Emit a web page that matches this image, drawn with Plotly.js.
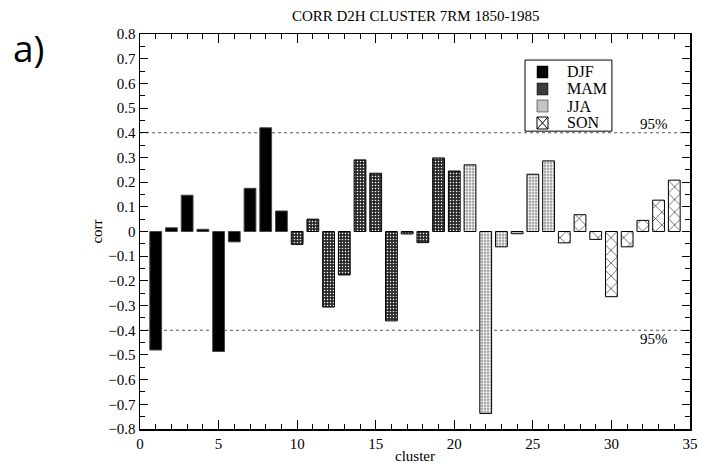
<!DOCTYPE html>
<html>
<head>
<meta charset="utf-8">
<script src="https://cdn.plot.ly/plotly-3.0.1.min.js"></script>
<style>html,body{margin:0;padding:0;background:#fff;}#chart{width:701px;height:472px;}</style>
</head>
<body>
<div id="chart"></div>
<script>
const seasons = ["DJF", "MAM", "JJA", "SON"];
const djfX = [1, 2, 3, 4, 5, 6, 7, 8, 9];
const djfY = [-0.48, 0.015, 0.147, 0.009, -0.486, -0.042, 0.175, 0.42, 0.083];
const mamX = [10, 11, 12, 13, 14, 15, 16, 17, 18, 19, 20];
const mamY = [-0.052, 0.05, -0.306, -0.176, 0.29, 0.236, -0.362, -0.01, -0.045, 0.298, 0.245];
const jjaX = [21, 22, 23, 24, 25, 26];
const jjaY = [0.27, -0.737, -0.062, -0.009, 0.232, 0.286];
const sonX = [27, 28, 29, 30, 31, 32, 33, 34];
const sonY = [-0.046, 0.068, -0.032, -0.264, -0.062, 0.045, 0.127, 0.208];
const sigLevel = 0.4;
const sigLabel = "95%";

const serif = "Liberation Serif, Times New Roman, serif";
const barW = 0.75;

const styles = [
  {color: "#000", line: {color: "#444", width: 1}},
  {color: "#333", line: {color: "#000", width: 1},
   pattern: {shape: ".", fgcolor: "#ffffff", bgcolor: "#2a2a2a", size: 3, solidity: 0.2}},
  {color: "#bbb", line: {color: "#000", width: 1},
   pattern: {shape: ".", fgcolor: "#ffffff", bgcolor: "#9a9a9a", size: 3, solidity: 0.45}},
  {color: "#fff", line: {color: "#000", width: 1},
   pattern: {shape: "x", fgcolor: "#000000", bgcolor: "#ffffff", size: 9, solidity: 0.12}}
];
const xs = [djfX, mamX, jjaX, sonX];
const ys = [djfY, mamY, jjaY, sonY];

const traces = seasons.map((s, i) => ({
  type: "bar", name: s, x: xs[i], y: ys[i], width: barW, marker: styles[i], showlegend: false
}));

// manual legend (box, swatches, labels) in paper coordinates
const legX0 = 0.70, legX1 = 0.858, legY0 = 0.754, legY1 = 0.934;
const swX0 = 0.7218, swX1 = 0.7418, swH = 0.0152;
const rowY = [0.9038, 0.8608, 0.8177, 0.7747];
const swatchFill = ["#000", "#3c3c3c", "#c4c4c4", "#fff"];

const shapes = [
  {type: "line", xref: "paper", x0: 0, x1: 1, yref: "y", y0: sigLevel, y1: sigLevel,
   line: {color: "#555", width: 1, dash: "dot"}, layer: "below"},
  {type: "line", xref: "paper", x0: 0, x1: 1, yref: "y", y0: -sigLevel, y1: -sigLevel,
   line: {color: "#555", width: 1, dash: "dot"}, layer: "below"},
  {type: "rect", xref: "paper", yref: "paper", x0: legX0, x1: legX1, y0: legY0, y1: legY1,
   fillcolor: "#fff", line: {color: "#000", width: 1}, layer: "above"}
];
rowY.forEach((ry, i) => {
  shapes.push({type: "rect", xref: "paper", yref: "paper", x0: swX0, x1: swX1, y0: ry - swH, y1: ry + swH,
    fillcolor: swatchFill[i], line: {color: "#000", width: i === 3 ? 1 : 0.5}, layer: "above"});
});
// crosshatch for SON swatch
const sy = rowY[3];
shapes.push({type: "line", xref: "paper", yref: "paper", x0: swX0, x1: swX1, y0: sy - swH, y1: sy + swH,
  line: {color: "#000", width: 1}, layer: "above"});
shapes.push({type: "line", xref: "paper", yref: "paper", x0: swX0, x1: swX1, y0: sy + swH, y1: sy - swH,
  line: {color: "#000", width: 1}, layer: "above"});

const annotations = [
  {text: sigLabel, xref: "x", x: 33.7, yref: "y", y: sigLevel, yanchor: "bottom", xanchor: "right",
   showarrow: false, font: {family: serif, size: 15, color: "#000"}, yshift: -1},
  {text: sigLabel, xref: "x", x: 33.7, yref: "y", y: -sigLevel, yanchor: "top", xanchor: "right",
   showarrow: false, font: {family: serif, size: 15, color: "#000"}, yshift: 1},
  {text: "a)", xref: "paper", x: -0.203, yref: "paper", y: 0.967, xanchor: "center", yanchor: "middle",
   showarrow: false, font: {family: "Open Sans, DejaVu Sans, sans-serif", size: 37, color: "#000"}}
];
rowY.forEach((ry, i) => {
  annotations.push({text: seasons[i], xref: "paper", yref: "paper", x: 0.7727, y: ry,
    xanchor: "left", yanchor: "middle", showarrow: false,
    font: {family: serif, size: 16, color: "#000"}});
});

const layout = {
  width: 701, height: 472,
  margin: {l: 140, r: 11, t: 34, b: 43},
  paper_bgcolor: "#fff", plot_bgcolor: "#fff",
  font: {family: serif, size: 15, color: "#000"},
  barmode: "overlay",
  showlegend: false,
  title: {text: "CORR D2H CLUSTER 7RM 1850-1985", font: {family: serif, size: 15, color: "#000"},
          x: 0.593, xanchor: "center", y: 0.966, yanchor: "middle"},
  xaxis: {range: [0, 35], dtick: 5, tick0: 0, ticks: "inside", ticklen: 9, tickcolor: "#000",
          showline: true, linecolor: "#000", linewidth: 1.5, mirror: "ticks", showgrid: false, zeroline: false,
          minor: {dtick: 1, ticks: "inside", ticklen: 5, tickcolor: "#000", showgrid: false},
          tickfont: {family: serif, size: 15},
          title: {text: "cluster", font: {family: serif, size: 15}, standoff: 0}},
  yaxis: {range: [-0.8, 0.8], dtick: 0.1, tick0: 0, ticks: "inside", ticklen: 8, tickcolor: "#000",
          showline: true, linecolor: "#000", linewidth: 1.5, mirror: "ticks", showgrid: false, zeroline: false,
          minor: {dtick: 0.05, ticks: "inside", ticklen: 5, tickcolor: "#000", showgrid: false},
          tickfont: {family: serif, size: 15},
          title: {text: "corr", font: {family: serif, size: 15}, standoff: 2}},
  shapes: shapes,
  annotations: annotations
};

Plotly.newPlot("chart", traces, layout, {displayModeBar: false, staticPlot: true});
</script>
</body>
</html>
